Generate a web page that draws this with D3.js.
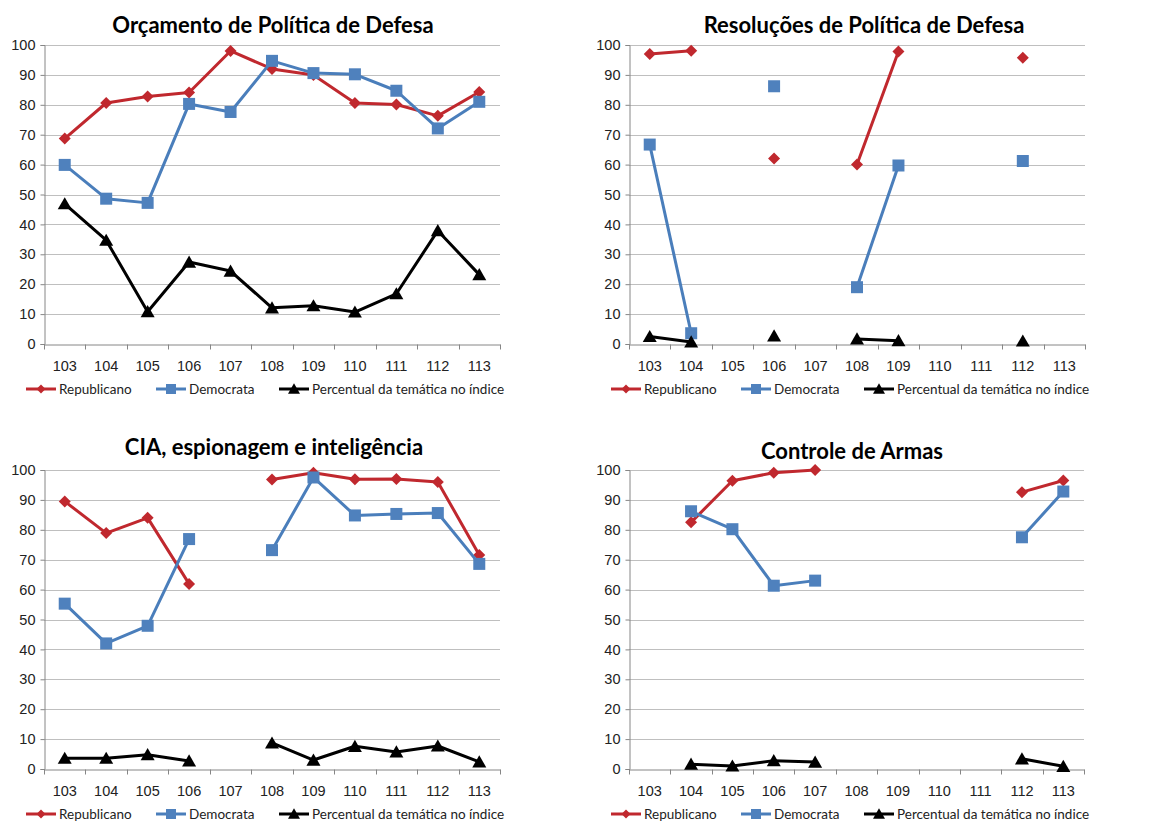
<!DOCTYPE html>
<html>
  <head>
    <meta charset="utf-8">
    <script src="https://d3js.org/d3.v7.min.js"></script>
    <style>
      body { margin: 0; background: #fff; }
      svg { display: block; font-family: Lato, "Open Sans", sans-serif; }
      .title { font-weight: bold; font-size: 22px; fill: #000; }
      .tick text { font-size: 14.5px; fill: #222; }
      .legend text { font-size: 13.5px; fill: #222; }
    </style>
  </head>
  <body>
    <svg id="chart" width="1152" height="823"></svg>
    <script>
      // congress sessions
      const categories = ['103', '104', '105', '106', '107', '108', '109', '110', '111', '112', '113']
      const yTicks = [0, 10, 20, 30, 40, 50, 60, 70, 80, 90, 100]
      const seriesNames = ['Republicano', 'Democrata', 'Percentual da temática no índice']

      // Orçamento de Política de Defesa
      const orcRep = [68.7, 80.6, 82.8, 84.1, 98, 92, 90, 80.6, 80.1, 76.3, 84.3]
      const orcDem = [59.9, 48.6, 47.2, 80.3, 77.6, 94.7, 90.6, 90.2, 84.7, 72.1, 81]
      const orcPct = [46.9, 34.7, 10.8, 27.4, 24.4, 12.1, 12.8, 10.7, 16.8, 37.9, 23.2]

      // Resoluções de Política de Defesa
      const resRep = [97, 98.1, null, 62, null, 60, 97.8, null, null, 95.7, null]
      const resDem = [66.7, 3.6, null, 86.2, null, 19, 59.7, null, null, 61.2, null]
      const resPct = [2.5, 0.7, null, 2.7, null, 1.7, 1.1, null, null, 1, null]

      // CIA, espionagem e inteligência
      const ciaRep = [89.5, 78.9, 84, 61.9, null, 96.8, 99.1, 96.9, 97, 96, 71.6]
      const ciaDem = [55.3, 42, 47.9, 76.9, null, 73.2, 97.5, 84.8, 85.3, 85.6, 68.6]
      const ciaPct = [3.6, 3.6, 4.8, 2.7, null, 8.7, 3, 7.6, 5.7, 7.7, 2.4]

      // Controle de Armas
      const armRep = [null, 82.5, 96.4, 99.1, 100, null, null, null, null, 92.6, 96.5]
      const armDem = [null, 86.2, 80.2, 61.3, 63, null, null, null, null, 77.5, 92.8]
      const armPct = [null, 1.6, 1, 2.8, 2.3, null, null, null, null, 3.4, 0.9]

      const colors = ['#C0282E', '#4A7EBB', '#000000']

      const panels = [
        { title: 'Orçamento de Política de Defesa', data: [orcRep, orcDem, orcPct],
          x0: 44, x1: 500, yTop: 45, yBottom: 344, titleX: 273, titleY: 33 },
        { title: 'Resoluções de Política de Defesa', data: [resRep, resDem, resPct],
          x0: 629, x1: 1085, yTop: 45, yBottom: 344, titleX: 864, titleY: 33 },
        { title: 'CIA, espionagem e inteligência', data: [ciaRep, ciaDem, ciaPct],
          x0: 44, x1: 500, yTop: 470, yBottom: 769, titleX: 274, titleY: 455 },
        { title: 'Controle de Armas', data: [armRep, armDem, armPct],
          x0: 629, x1: 1084, yTop: 470, yBottom: 769, titleX: 852, titleY: 459 }
      ]

      const svg = d3.select('#chart')

      function marker(sel, type, size) {
        if (type == 0) {
          let s = size / 2
          sel.append('path').attr('d', `M0,${-s}L${s},0L0,${s}L${-s},0Z`)
        } else if (type == 1) {
          sel.append('rect').attr('x', -size / 2).attr('y', -size / 2)
            .attr('width', size).attr('height', size)
        } else {
          let w = size / 2, h = size * 0.4
          sel.append('path').attr('d', `M0,${-h - 1}L${w},${h}L${-w},${h}Z`)
        }
      }

      panels.forEach(p => {
        let g = svg.append('g')

        let x = d3.scaleBand().domain(categories).range([p.x0, p.x1]).padding(0)
        let y = d3.scaleLinear().domain([0, 100]).range([p.yBottom, p.yTop])

        g.append('text').attr('class', 'title')
          .attr('x', p.titleX).attr('y', p.titleY)
          .attr('text-anchor', 'middle').text(p.title)

        // gridlines
        g.append('g').selectAll('line').data(yTicks.filter(d => d > 0)).join('line')
          .attr('x1', p.x0).attr('x2', p.x1)
          .attr('y1', d => Math.round(y(d)) + 0.5).attr('y2', d => Math.round(y(d)) + 0.5)
          .attr('stroke', '#BFBFBF').attr('stroke-width', 1)

        // y axis
        let yAxis = g.append('g').attr('transform', `translate(${Math.round(p.x0) + 0.5},0)`)
          .call(d3.axisLeft(y).tickValues(yTicks).tickSize(4).tickPadding(5))
        yAxis.select('.domain').attr('stroke', '#868686')
        yAxis.selectAll('.tick line').attr('stroke', '#868686')

        // x axis: ticks at category boundaries like excel
        let xAxis = g.append('g').attr('transform', `translate(0,${Math.round(p.yBottom) + 0.5})`)
          .call(d3.axisBottom(x).tickSize(0).tickPadding(16))
        xAxis.select('.domain').attr('stroke', '#868686')
        let bounds = categories.map(c => x(c)).concat([p.x1])
        xAxis.selectAll('.bound').data(bounds).join('line').attr('class', 'bound')
          .attr('x1', d => Math.round(d) + 0.5).attr('x2', d => Math.round(d) + 0.5)
          .attr('y1', 0).attr('y2', 5).attr('stroke', '#868686')

        let line = d3.line()
          .defined(d => d != null)
          .x((d, i) => x(categories[i]) + x.bandwidth() / 2)
          .y(d => y(d))

        p.data.forEach((vals, k) => {
          let sg = g.append('g')
          sg.append('path').datum(vals)
            .attr('d', line)
            .attr('fill', 'none')
            .attr('stroke', colors[k])
            .attr('stroke-width', 3)
            .attr('stroke-linejoin', 'round')
          let sizes = [12, 12, 14]
          sg.selectAll('g.pt')
            .data(vals.map((v, i) => ({ v, c: categories[i] })).filter(d => d.v != null))
            .join('g').attr('class', 'pt')
            .attr('transform', d => `translate(${x(d.c) + x.bandwidth() / 2},${y(d.v)})`)
            .attr('fill', k == 1 ? '#4F81BD' : colors[k])
            .each(function () { marker(d3.select(this), k, sizes[k]) })
        })

        // legend
        let ly = p.yBottom + 45
        let lx = [p.x0 - 18, p.x0 + 112, p.x0 + 235]
        let lg = g.append('g').attr('class', 'legend')
        seriesNames.forEach((name, k) => {
          let item = lg.append('g').attr('transform', `translate(${lx[k]},${ly})`)
          item.append('line').attr('x1', 0).attr('x2', 30).attr('y1', 0).attr('y2', 0)
            .attr('stroke', colors[k]).attr('stroke-width', 3)
          let m = item.append('g').attr('transform', 'translate(15,0)')
            .attr('fill', k == 1 ? '#4F81BD' : colors[k])
          marker(m, k, [9, 10, 12][k])
          item.append('text').attr('x', 33).attr('y', 5).text(name)
        })
      })
    </script>
  </body>
</html>
